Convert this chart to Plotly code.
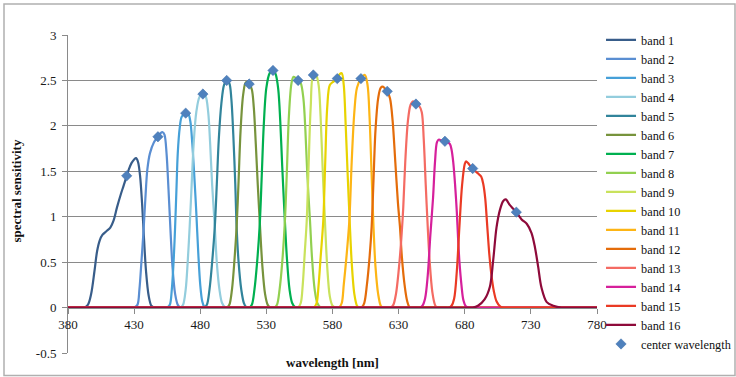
import plotly.graph_objects as go

# Spectral sensitivity of a 16-band sensor, sampled at hand-picked wavelengths (nm)
band_names = [f"band {i}" for i in range(1, 17)]

band_colors = [
    "#385D8A", "#5A8ED2", "#46A0D8", "#93CDDD", "#31849B", "#77933C",
    "#00B050", "#92D050", "#C9E25C", "#E8D300", "#FDB515", "#E46C0A",
    "#F46B63", "#D6209B", "#EA3A24", "#8E0A3A",
]

b1_nm = [380, 388, 392, 395, 397.5, 400, 402, 404, 406, 409, 412, 414.5, 417, 420, 422, 424.4, 426, 428, 430, 431.5, 433, 434.5, 436, 437.5, 439, 441, 443, 445, 449, 780]
b1_v = [0, 0, 0, 0.03, 0.15, 0.4, 0.62, 0.74, 0.8, 0.84, 0.88, 0.96, 1.1, 1.25, 1.34, 1.45, 1.52, 1.59, 1.63, 1.645, 1.6, 1.45, 1.15, 0.75, 0.4, 0.13, 0.02, 0, 0, 0]

b2_nm = [380, 426, 430, 432.5, 434, 435.5, 437, 438.5, 440, 442, 445, 448, 450, 451.6, 453, 454.5, 456, 457.5, 459, 461, 463, 465, 469, 780]
b2_v = [0, 0, 0, 0.03, 0.2, 0.5, 0.82, 1.2, 1.52, 1.7, 1.82, 1.88, 1.92, 1.93, 1.9, 1.7, 1.3, 0.85, 0.45, 0.15, 0.03, 0, 0, 0]

b3_nm = [380, 451, 455, 457, 458.5, 460, 461, 462, 463, 464.5, 466, 469, 471, 472.5, 474, 475.5, 477, 478.5, 480, 481.5, 483, 485, 489, 780]
b3_v = [0, 0, 0, 0.03, 0.2, 0.55, 0.89, 1.3, 1.7, 1.98, 2.1, 2.14, 2.13, 2.05, 1.8, 1.45, 1.05, 0.6, 0.25, 0.07, 0.01, 0, 0, 0]

b4_nm = [380, 461, 465, 467, 469, 470.5, 472, 473.5, 475, 477, 479.5, 482, 484, 486, 487.5, 489, 491, 492.5, 494.5, 496.5, 499, 503, 780]
b4_v = [0, 0, 0, 0.03, 0.2, 0.5, 0.89, 1.35, 1.8, 2.15, 2.32, 2.35, 2.33, 2.15, 1.8, 1.35, 0.89, 0.5, 0.2, 0.05, 0, 0, 0]

b5_nm = [380, 479, 483, 485, 487, 489, 491, 492.5, 494, 496, 498, 500, 502, 503.5, 505, 506.5, 507.5, 509, 511, 513, 515, 519, 780]
b5_v = [0, 0, 0, 0.03, 0.2, 0.5, 0.89, 1.35, 1.85, 2.25, 2.45, 2.5, 2.47, 2.3, 1.9, 1.35, 0.89, 0.5, 0.2, 0.05, 0, 0, 0]

b6_nm = [380, 496, 500, 502, 504, 506, 507.5, 509, 510.5, 512.5, 514.5, 517, 519, 520.5, 522, 523.5, 525.2, 527, 529, 531, 533, 537, 780]
b6_v = [0, 0, 0, 0.03, 0.2, 0.55, 0.89, 1.4, 1.95, 2.35, 2.48, 2.46, 2.4, 2.2, 1.8, 1.35, 0.89, 0.45, 0.15, 0.03, 0, 0, 0]

b7_nm = [380, 513, 517, 519, 521, 523, 525, 526.5, 528, 530, 532.5, 535, 537, 539, 540.5, 542, 544, 545.5, 547.5, 549.5, 552, 556, 780]
b7_v = [0, 0, 0, 0.03, 0.2, 0.5, 0.92, 1.45, 2.0, 2.42, 2.58, 2.61, 2.57, 2.4, 2.05, 1.55, 0.95, 0.55, 0.2, 0.05, 0, 0, 0]

b8_nm = [380, 532, 536, 538, 540, 542, 544, 545.5, 547, 549, 550.5, 552, 554, 556, 558, 559.5, 561, 563, 564.5, 566.5, 568.5, 571, 575, 780]
b8_v = [0, 0, 0, 0.03, 0.2, 0.5, 0.95, 1.5, 2.1, 2.47, 2.54, 2.53, 2.5, 2.47, 2.3, 1.95, 1.45, 0.95, 0.55, 0.2, 0.05, 0, 0, 0]

b9_nm = [380, 550, 554, 556, 557.5, 559, 560.5, 562, 563.5, 565.5, 567.5, 569.5, 571, 572.5, 574.3, 576, 578, 580, 582, 586, 780]
b9_v = [0, 0, 0, 0.05, 0.25, 0.6, 0.95, 1.6, 2.2, 2.56, 2.56, 2.45, 2.1, 1.55, 0.95, 0.45, 0.12, 0.02, 0, 0, 0]

b10_nm = [380, 562, 566, 568, 569.5, 571, 573, 574.5, 576, 578, 581, 583.6, 585.5, 587, 588.5, 590, 591.5, 593, 594.5, 596.5, 598.5, 600, 604, 780]
b10_v = [0, 0, 0, 0.05, 0.25, 0.55, 0.95, 1.6, 2.2, 2.45, 2.49, 2.52, 2.57, 2.58, 2.45, 2.0, 1.45, 0.95, 0.5, 0.15, 0.02, 0, 0, 0]

b11_nm = [380, 581, 585, 587, 588.5, 590.5, 592.7, 594.5, 596.5, 598.5, 601.5, 604.5, 606.5, 608, 609.5, 611, 612.5, 614.5, 616.5, 618, 622, 780]
b11_v = [0, 0, 0, 0.05, 0.25, 0.55, 0.95, 1.6, 2.15, 2.42, 2.52, 2.56, 2.45, 2.1, 1.5, 0.89, 0.45, 0.15, 0.02, 0, 0, 0]

b12_nm = [380, 598, 602, 604, 606, 608, 609.6, 611, 612.5, 614.5, 616.5, 618.4, 620, 621.4, 623.5, 625.5, 627.5, 629.5, 631, 632.5, 634.5, 636.5, 638.5, 642, 780]
b12_v = [0, 0, 0, 0.05, 0.25, 0.55, 0.89, 1.4, 1.95, 2.3, 2.42, 2.43, 2.4, 2.38, 2.3, 2.05, 1.6, 1.15, 0.89, 0.55, 0.25, 0.07, 0, 0, 0]

b13_nm = [380, 620, 624, 626, 628, 630, 632, 633.5, 635, 637, 639, 641, 643.1, 645.5, 647.5, 649, 650.5, 652, 653.5, 655.5, 657.5, 659, 663, 780]
b13_v = [0, 0, 0, 0.03, 0.15, 0.4, 0.75, 1.1, 1.6, 2.05, 2.23, 2.27, 2.24, 2.22, 2.15, 1.85, 1.35, 0.89, 0.5, 0.17, 0.03, 0, 0, 0]

b14_nm = [380, 642, 646, 648, 650, 652, 654, 656, 657.5, 659, 660.5, 663, 665, 667, 668.8, 670, 671.3, 672.7, 674, 675, 676, 677.5, 679, 681, 683, 687, 780]
b14_v = [0, 0, 0, 0.02, 0.1, 0.35, 0.8, 1.2, 1.6, 1.82, 1.85, 1.83, 1.83, 1.82, 1.8, 1.74, 1.6, 1.35, 1.05, 0.75, 0.5, 0.25, 0.08, 0.01, 0, 0, 0]

b15_nm = [380, 664, 668, 670, 672, 674, 676, 678, 680, 681, 682.5, 684, 686, 688, 690.5, 692.5, 694, 695.5, 697, 698.5, 700, 702, 704, 707, 710, 714, 780]
b15_v = [0, 0, 0, 0.02, 0.1, 0.4, 0.9, 1.35, 1.58, 1.61, 1.59, 1.56, 1.53, 1.5, 1.47, 1.44, 1.36, 1.2, 0.9, 0.6, 0.38, 0.18, 0.07, 0.01, 0, 0, 0]

b16_nm = [380, 682, 686, 690, 695, 699, 701.5, 704, 706.5, 709, 711, 714, 716.5, 719, 723, 727, 730.5, 733, 735.5, 738, 742, 747, 753, 757, 780]
b16_v = [0, 0, 0, 0.02, 0.09, 0.23, 0.52, 0.88, 1.07, 1.17, 1.19, 1.13, 1.09, 1.05, 0.97, 0.92, 0.82, 0.67, 0.45, 0.22, 0.06, 0.02, 0, 0, 0]

band_nm = [b1_nm, b2_nm, b3_nm, b4_nm, b5_nm, b6_nm, b7_nm, b8_nm,
           b9_nm, b10_nm, b11_nm, b12_nm, b13_nm, b14_nm, b15_nm, b16_nm]
band_v = [b1_v, b2_v, b3_v, b4_v, b5_v, b6_v, b7_v, b8_v,
          b9_v, b10_v, b11_v, b12_v, b13_v, b14_v, b15_v, b16_v]

# Center wavelength of each band and the sensitivity there
center_nm = [424.4, 448, 469, 482, 500, 517, 535, 554, 565.5, 583.6, 601.5, 621.4, 643.1, 665, 686, 719]
center_v = [1.45, 1.88, 2.14, 2.35, 2.5, 2.46, 2.61, 2.5, 2.56, 2.52, 2.52, 2.38, 2.24, 1.83, 1.53, 1.05]

x_ticks = [380, 430, 480, 530, 580, 630, 680, 730, 780]
y_ticks = [-0.5, 0, 0.5, 1, 1.5, 2, 2.5, 3]
y_tick_text = ["-0.5", "0", "0.5", "1", "1.5", "2", "2.5", "3"]

SERIF = "Liberation Serif, Times New Roman, serif"
GRID = "#8a8a8a"

fig = go.Figure()
for name, color, xs, ys in zip(band_names, band_colors, band_nm, band_v):
    fig.add_trace(go.Scatter(
        x=xs, y=ys, name=name, mode="lines",
        line=dict(color=color, width=2.2, shape="spline", smoothing=0.9),
    ))

fig.add_trace(go.Scatter(
    x=center_nm, y=center_v, name="center wavelength", mode="markers",
    marker=dict(symbol="diamond", size=8, color="#4F81BD",
                line=dict(color="#3F6FA8", width=0.5)),
))

# plot area spans paper [0,1]; the x axis crosses y at 0
y_min, y_max = -0.5, 3.0
fig.update_layout(
    width=736, height=377,
    margin=dict(l=68, r=139, t=35, b=24, autoexpand=False),
    paper_bgcolor="white", plot_bgcolor="white",
    font=dict(family=SERIF, size=13, color="#1a1a1a"),
    showlegend=True,
    legend=dict(x=1.0076, xanchor="left", y=1.03, yanchor="top",
                bgcolor="rgba(0,0,0,0)", font=dict(family=SERIF, size=12.3, color="#111"),
                itemwidth=30, tracegroupgap=0, maxheight=370),
    xaxis=dict(
        range=[380, 780], tickvals=x_ticks, ticktext=[str(t) for t in x_ticks],
        showgrid=False, zeroline=False, showline=True, linecolor=GRID, linewidth=1,
        ticks="outside", ticklen=5, tickcolor=GRID,
        anchor="free", position=(0 - y_min) / (y_max - y_min),
        tickfont=dict(family=SERIF, size=13, color="#1a1a1a"),
    ),
    yaxis=dict(
        range=[y_min, y_max], tickvals=y_ticks, ticktext=y_tick_text,
        showgrid=True, gridcolor=GRID, gridwidth=1, zeroline=False,
        showline=True, linecolor=GRID, linewidth=1,
        ticks="outside", ticklen=5, tickcolor=GRID, ticklabelstandoff=3,
        tickfont=dict(family=SERIF, size=13, color="#1a1a1a"),
    ),
    annotations=[
        dict(text="<b>wavelength [nm]</b>", xref="paper", yref="paper",
             x=0.5, y=(353 - 362) / 318, xanchor="center", yanchor="middle", showarrow=False,
             font=dict(family=SERIF, size=13, color="#111")),
        dict(text="<b>spectral sensitivity</b>", xref="paper", yref="paper",
             x=-0.097, y=0.51, xanchor="center", yanchor="middle", textangle=-90,
             showarrow=False, font=dict(family=SERIF, size=13, color="#111")),
    ],
    shapes=[
        dict(type="rect", xref="paper", yref="paper",
             x0=(4 - 68) / 529, x1=(735 - 68) / 529,
             y0=(353 - 375.5) / 318, y1=(353 - 4) / 318,
             line=dict(color="#b0b0b0", width=1.5), fillcolor="rgba(0,0,0,0)", layer="below"),
    ],
)

fig.write_html("out.html")
